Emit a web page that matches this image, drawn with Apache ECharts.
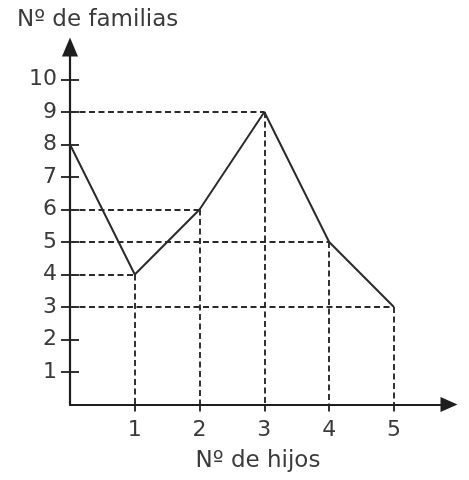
<!DOCTYPE html>
<html>
<head>
<meta charset="utf-8">
<script src="https://cdn.jsdelivr.net/npm/echarts@6/dist/echarts.min.js"></script>
<style>
  html, body { margin: 0; padding: 0; background: #fff; }
  #chart { width: 469px; height: 480px; }
</style>
</head>
<body>
<div id="chart"></div>
<script>
// Nº de hijos por familia
const hijos = [0, 1, 2, 3, 4, 5]
const familias = [8, 4, 6, 9, 5, 3]
const yTicks = [1, 2, 3, 4, 5, 6, 7, 8, 9, 10]
const xTicks = [1, 2, 3, 4, 5]

const ink = '#1e1e1e'
const textColor = '#3a3a3a'
const font = 'DejaVu Sans, Verdana, sans-serif'

// guias discontinuas: de cada punto al eje Y y al eje X
const guias = []
hijos.forEach((h, i) => {
    if (h === 0) return
    const v = familias[i]
    guias.push([{ coord: [0, v] }, { coord: [h, v] }])
    guias.push([{ coord: [h, v] }, { coord: [h, 0] }])
})

const chart = echarts.init(document.getElementById('chart'))
const option = {
    animation: false,
    title: [
        {
            text: 'Nº de familias',
            left: 12,
            top: 4,
            textStyle: { fontFamily: font, fontSize: 23, fontWeight: 'normal', color: textColor },
        },
        {
            text: 'Nº de hijos',
            left: 253,
            top: 445,
            textAlign: 'center',
            textStyle: { fontFamily: font, fontSize: 23, fontWeight: 'normal', color: textColor },
        },
    ],
    grid: { left: 70, top: 47, width: 379, height: 357.5 },
    xAxis: {
        type: 'value',
        min: 0,
        max: 5.85,
        interval: 1,
        splitLine: { show: false },
        axisLine: {
            lineStyle: { color: ink, width: 2.2 },
            symbol: ['none', 'triangle'],
            symbolSize: [15, 17],
        },
        axisTick: { show: true, length: 7, lineStyle: { color: ink, width: 1.8 }, customValues: xTicks },
        axisLabel: { margin: 15, fontFamily: font, fontSize: 22, color: textColor, customValues: xTicks },
    },
    yAxis: [
        {
            type: 'value',
            min: 0,
            max: 11,
            interval: 1,
            splitLine: { show: false },
            axisLine: {
                show: true,
                lineStyle: { color: ink, width: 2.2 },
                symbol: ['none', 'triangle'],
                symbolSize: [16, 19],
            },
            axisTick: { show: true, length: 9, lineStyle: { color: ink, width: 1.8 }, customValues: yTicks },
            axisLabel: { margin: 13, fontFamily: font, fontSize: 22, color: textColor, customValues: yTicks },
        },
        {
            type: 'value',
            position: 'left',
            min: 0,
            max: 11,
            interval: 1,
            splitLine: { show: false },
            axisLine: { show: false },
            axisTick: { show: true, inside: true, length: 9, lineStyle: { color: ink, width: 1.8 }, customValues: yTicks },
            axisLabel: { show: false },
        },
    ],
    series: [
        {
            type: 'line',
            data: hijos.map((h, i) => [h, familias[i]]),
            showSymbol: false,
            lineStyle: { color: '#2a2a2a', width: 2 },
            markLine: {
                silent: true,
                symbol: ['none', 'none'],
                label: { show: false },
                lineStyle: { color: '#2a2a2a', width: 1.9, type: [6, 3.5] },
                data: guias,
            },
        },
    ],
}
chart.setOption(option)
window.addEventListener('resize', () => chart.resize())
</script>
</body>
</html>
